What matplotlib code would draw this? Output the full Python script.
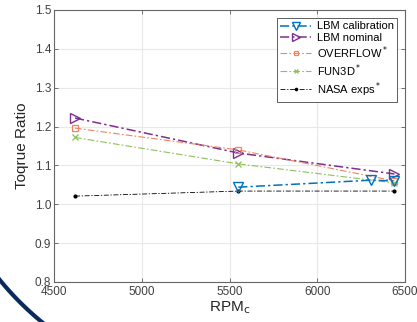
#!/usr/bin/env python3

import numpy as np
from matplotlib import pyplot as plt
from matplotlib.lines import Line2D

plt.rcParams["font.family"] = ["Liberation Sans", "DejaVu Sans"]

# values
calib_rpm = [5550, 6305, 6440]
calib_ratio = [1.044, 1.062, 1.060]

nominal_rpm = [4620, 5550, 6440]
nominal_ratio = [1.222, 1.132, 1.078]

overflow_rpm = [4620, 5550, 6440]
overflow_ratio = [1.196, 1.140, 1.060]

fun3d_rpm = [4620, 5550, 6440]
fun3d_ratio = [1.172, 1.104, 1.055]

nasa_rpm = [4620, 5550, 6440]
nasa_ratio = [1.021, 1.034, 1.034]

W, H = 417, 322
fig = plt.figure(figsize=(W / 100, H / 100), dpi=100)
ax = fig.add_axes([54 / W, 40 / H, 351 / W, 272 / H])

dash = (0, (6, 2, 1.5, 2))
ax.plot(nominal_rpm, nominal_ratio, ls=dash, marker=">", color="#7E2F8E",
        mfc="none", ms=6.5, mew=1.0, lw=1.1, label="LBM nominal", zorder=3)
ax.plot(overflow_rpm, overflow_ratio, ls=dash, marker="s", color="#EE8460",
        mfc="none", ms=4, mew=0.9, lw=0.8, label="OVERFLOW$^*$", zorder=3)
ax.plot(fun3d_rpm, fun3d_ratio, ls=dash, marker="x", color="#8DC15A",
        ms=4, mew=0.9, lw=0.8, label="FUN3D$^*$", zorder=3)
ax.plot(nasa_rpm, nasa_ratio, ls=dash, marker=".", color="black",
        ms=4, lw=0.6, label="NASA exps$^*$", zorder=3)
ax.plot(calib_rpm, calib_ratio, ls=dash, marker="v", color="#0072BD",
        mfc="none", ms=6.5, mew=1.0, lw=1.1, label="LBM calibration", zorder=4)

ax.set_xlim(4500, 6500)
ax.set_ylim(0.8, 1.5)
ax.set_xticks([4500, 5000, 5500, 6000, 6500])
ax.set_yticks(np.arange(0.8, 1.51, 0.1))
ax.set_yticklabels(["%.1f" % v for v in np.arange(0.8, 1.51, 0.1)])
ax.grid(True, color="#e8e8e8", lw=0.8)
ax.set_axisbelow(True)
ax.tick_params(direction="in", colors="#404040", labelsize=8.5,
               length=3, width=0.5, top=True, right=True, pad=2)
ax.tick_params(axis="x", pad=3)
for s in ax.spines.values():
    s.set_color("#666666")
    s.set_linewidth(0.8)

ax.set_xlabel("RPM$_\\mathrm{c}$", fontsize=11, color="#262626", labelpad=1)
ax.set_ylabel("Toqrue Ratio", fontsize=11, color="#262626", labelpad=4)

handles, labels = ax.get_legend_handles_labels()
order = [4, 0, 1, 2, 3]
leg = ax.legend([handles[i] for i in order], [labels[i] for i in order],
                loc="upper right", fontsize=8, fancybox=False,
                framealpha=1, edgecolor="#444444", handlelength=2.8,
                handletextpad=0.5, borderpad=0.3, labelspacing=0.12,
                borderaxespad=0, bbox_to_anchor=(0.978, 0.97), markerscale=0.8)
leg.get_frame().set_linewidth(0.6)

# decorative navy arc in the lower left corner (slide background)
cx, cy, r = 232, 90, 300
t = np.radians(np.linspace(195, 260, 100))
px = (cx + r * np.cos(t)) / W
py = 1 - (cy - r * np.sin(t)) / H
fig.add_artist(Line2D(px, py, transform=fig.transFigure, color="#0B2A5C",
                      lw=3))

plt.savefig("out.png", dpi=100)
